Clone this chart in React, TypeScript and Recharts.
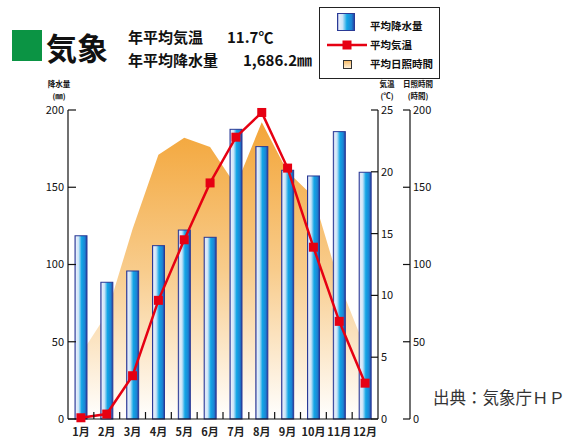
import React from 'react';
import { ComposedChart, Bar, Line, Area, XAxis, YAxis } from 'recharts';

const months = ['1月', '2月', '3月', '4月', '5月', '6月', '7月', '8月', '9月', '10月', '11月', '12月'];
const rainfall = [118.6, 88.5, 95.8, 112.2, 122.3, 117.6, 187.5, 176.3, 161.0, 157.3, 186.0, 159.7];
const temperature = [0.1, 0.4, 3.5, 9.6, 14.5, 19.1, 22.8, 24.8, 20.3, 13.9, 7.9, 2.9];
const sunshine = [42, 68, 123, 171, 182, 176, 151, 192, 160, 144, 88, 46];

const rainTicks = [0, 50, 100, 150, 200];
const tempTicks = [0, 5, 10, 15, 20, 25];
const sunTicks = [0, 50, 100, 150, 200];

const data = months.map((m, i) => ({
  month: m,
  rain: rainfall[i],
  temp: temperature[i],
  sun: sunshine[i],
}));

const FONT = '"Noto Sans CJK JP", "Noto Sans", sans-serif';
const RED = '#e60012';

const MonthTick = (props: any) => {
  const { x, y, payload, index } = props;
  const half = payload && payload.offset ? payload.offset : 13;
  return (
    <g>
      <text x={x} y={y + 17} textAnchor="middle" fontSize={11} fontWeight="bold" fill="#222" fontFamily={FONT}>
        {payload.value}
      </text>
      {index < months.length - 1 && (
        <line x1={x + half} x2={x + half} y1={y} y2={y - 7} stroke="#111" strokeWidth={1.2} />
      )}
    </g>
  );
};

const BarShape = (props: any) => {
  const { x, y, width, height } = props;
  if (!height || height <= 0) return null;
  return (
    <rect x={x} y={y} width={width} height={height} fill="url(#barGrad)" stroke="#2a3a96" strokeWidth={1} />
  );
};

const SquareDot = (props: any) => {
  const { cx, cy } = props;
  if (cx == null || cy == null) return null;
  return <rect x={cx - 4.5} y={cy - 4.5} width={9} height={9} fill={RED} />;
};

const tickStyle = { fontSize: 11, fill: '#111', fontFamily: FONT };

export default function App() {
  return (
    <div style={{ position: 'absolute', left: 0, top: 0, width: 587, height: 439, background: '#fff', fontFamily: FONT }}>
      <svg width={0} height={0} style={{ position: 'absolute' }}>
        <defs>
          <linearGradient id="barGrad" x1="0" y1="0" x2="1" y2="0">
            <stop offset="0%" stopColor="#8a90cc" />
            <stop offset="12%" stopColor="#e4eefa" />
            <stop offset="30%" stopColor="#c9e4f8" />
            <stop offset="55%" stopColor="#12a6e6" />
            <stop offset="82%" stopColor="#1c84d4" />
            <stop offset="100%" stopColor="#233e9e" />
          </linearGradient>
          <linearGradient id="sunGrad" x1="0" y1="0" x2="0" y2="1">
            <stop offset="0%" stopColor="#f3a538" />
            <stop offset="50%" stopColor="#f8cc8c" />
            <stop offset="100%" stopColor="#ffffff" />
          </linearGradient>
          <linearGradient id="sunLegend" x1="0" y1="0" x2="0" y2="1">
            <stop offset="0%" stopColor="#f6b860" />
            <stop offset="100%" stopColor="#fff3e0" />
          </linearGradient>
        </defs>
      </svg>

      <ComposedChart
        width={587}
        height={439}
        data={data}
        margin={{ top: 110, right: 147, bottom: 0, left: 28 }}
      >
        <XAxis
          dataKey="month"
          xAxisId="m"
          height={20}
          tickSize={0}
          tickMargin={0}
          tickLine={false}
          axisLine={{ stroke: '#111', strokeWidth: 1.2 }}
          tick={<MonthTick />}
          interval={0}
        />
        <YAxis
          yAxisId="l_rain"
          orientation="left"
          width={40}
          domain={[0, 200]}
          ticks={rainTicks}
          tickSize={-8}
          tickMargin={12}
          axisLine={{ stroke: '#111', strokeWidth: 1.2 }}
          tickLine={{ stroke: '#111', strokeWidth: 1.2 }}
          tick={tickStyle}
        />
        <YAxis
          yAxisId="r1_temp"
          orientation="right"
          width={32}
          domain={[0, 25]}
          ticks={tempTicks}
          tickSize={-7}
          tickMargin={10}
          axisLine={{ stroke: '#111', strokeWidth: 1.2 }}
          tickLine={{ stroke: '#111', strokeWidth: 1.2 }}
          tick={tickStyle}
        />
        <YAxis
          yAxisId="r2_sun"
          orientation="right"
          width={30}
          domain={[0, 200]}
          ticks={sunTicks}
          tickSize={-7}
          tickMargin={10}
          axisLine={{ stroke: '#111', strokeWidth: 1.2 }}
          tickLine={{ stroke: '#111', strokeWidth: 1.2 }}
          tick={tickStyle}
        />
        <Area
          xAxisId="m"
          yAxisId="r2_sun"
          type="linear"
          dataKey="sun"
          stroke="none"
          fill="url(#sunGrad)"
          fillOpacity={1}
          isAnimationActive={false}
        />
        <Bar
          xAxisId="m"
          yAxisId="l_rain"
          dataKey="rain"
          barSize={12}
          shape={<BarShape />}
          isAnimationActive={false}
        />
        <Line
          xAxisId="m"
          yAxisId="r1_temp"
          type="linear"
          dataKey="temp"
          stroke={RED}
          strokeWidth={2.5}
          dot={<SquareDot />}
          activeDot={false}
          isAnimationActive={false}
        />
      </ComposedChart>

      <svg width={587} height={439} style={{ position: 'absolute', left: 0, top: 0, pointerEvents: 'none' }} fontFamily={FONT}>
        {/* title */}
        <rect x={12} y={30} width={30} height={31} fill="#0b9444" />
        <text x={46} y={60} fontSize={31} fontWeight="bold" fill="#111">気象</text>
        <text x={128} y={43} fontSize={15} fontWeight="bold" fill="#111">年平均気温</text>
        <text x={227} y={43} fontSize={15} fontWeight="bold" fill="#111">11.7℃</text>
        <text x={128} y={66} fontSize={15} fontWeight="bold" fill="#111">年平均降水量</text>
        <text x={243} y={66} fontSize={15} fontWeight="bold" fill="#111">1,686.2㎜</text>

        {/* legend */}
        <rect x={319.5} y={7.5} width={120} height={71} fill="#fff" stroke="#222" strokeWidth={1} />
        <rect x={337.5} y={13.5} width={17} height={17} fill="url(#barGrad)" stroke="#2a3a96" />
        <text x={370} y={30} fontSize={10.5} fontWeight="bold" fill="#111">平均降水量</text>
        <line x1={327} x2={367} y1={45} y2={45} stroke={RED} strokeWidth={2.5} />
        <rect x={342.5} y={40.5} width={9} height={9} fill={RED} />
        <text x={370} y={49} fontSize={10.5} fontWeight="bold" fill="#111">平均気温</text>
        <rect x={343.5} y={60.5} width={8} height={8} fill="url(#sunLegend)" stroke="#333" />
        <text x={370} y={68} fontSize={10.5} fontWeight="bold" fill="#111">平均日照時間</text>

        {/* axis units */}
        <text x={59} y={87} fontSize={7.5} fontWeight="bold" fill="#111" textAnchor="middle">降水量</text>
        <text x={59} y={98.5} fontSize={7.5} fontWeight="bold" fill="#111" textAnchor="middle">(㎜)</text>
        <text x={387} y={87} fontSize={7.5} fontWeight="bold" fill="#111" textAnchor="middle">気温</text>
        <text x={387} y={98.5} fontSize={7.5} fontWeight="bold" fill="#111" textAnchor="middle">(℃)</text>
        <text x={418} y={87} fontSize={7.5} fontWeight="bold" fill="#111" textAnchor="middle">日照時間</text>
        <text x={418} y={98.5} fontSize={7.5} fontWeight="bold" fill="#111" textAnchor="middle">(時間)</text>

        {/* source */}
        <text x={433} y={404} fontSize={16.5} fill="#333">出典：気象庁ＨＰ</text>
      </svg>
    </div>
  );
}
